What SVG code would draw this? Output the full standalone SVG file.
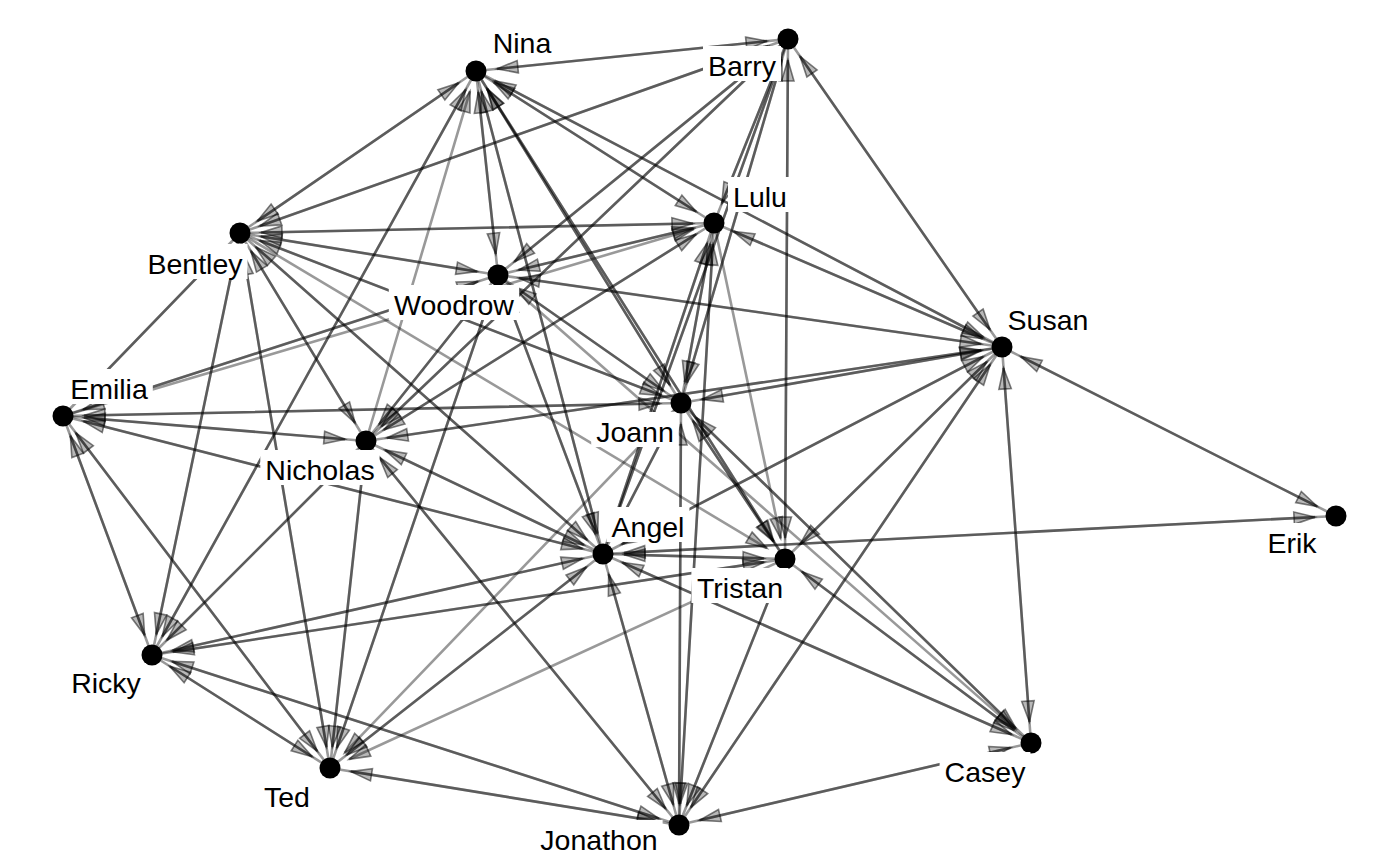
<svg xmlns="http://www.w3.org/2000/svg" width="1400" height="865" viewBox="0 0 1400 865">
<style>
.edges line{stroke:#000;stroke-opacity:.4;stroke-width:2.6;stroke-dasharray:0 21 3000;marker-start:url(#a);fill:none}
.node circle{fill:#000}
.node rect{fill:#fff}
.node text{font-family:"Liberation Sans",Arial,sans-serif;font-size:28.5px;fill:#000;text-anchor:middle}
</style>
<defs>
<marker id="a" markerUnits="userSpaceOnUse" viewBox="0 0 44 20" refX="42" refY="10" markerWidth="44" markerHeight="20" orient="auto-start-reverse" overflow="visible">
<path d="M0,3.8 L21,10 L0,16.2 Z" fill="#000" fill-opacity=".28" stroke="#000" stroke-opacity=".5" stroke-width="1.6"/>
</marker>
</defs>
<rect width="1400" height="865" fill="#fff"/>
<g id="edges" class="edges">
<line x1="476" y1="71" x2="788" y2="39"/><line x1="788" y1="39" x2="476" y2="71"/>
<line x1="476" y1="71" x2="240" y2="233"/><line x1="240" y1="233" x2="476" y2="71"/>
<line x1="476" y1="71" x2="152" y2="655"/><line x1="152" y1="655" x2="476" y2="71"/>
<line x1="476" y1="71" x2="498" y2="275"/><line x1="498" y1="275" x2="476" y2="71"/>
<line x1="476" y1="71" x2="603" y2="554"/><line x1="603" y1="554" x2="476" y2="71"/>
<line x1="476" y1="71" x2="681" y2="403"/><line x1="681" y1="403" x2="476" y2="71"/>
<line x1="476" y1="71" x2="785" y2="559"/><line x1="785" y1="559" x2="476" y2="71"/>
<line x1="476" y1="71" x2="714" y2="223"/><line x1="714" y1="223" x2="476" y2="71"/>
<line x1="476" y1="71" x2="1002" y2="347"/><line x1="1002" y1="347" x2="476" y2="71"/>
<line x1="788" y1="39" x2="240" y2="233"/><line x1="240" y1="233" x2="788" y2="39"/>
<line x1="788" y1="39" x2="498" y2="275"/><line x1="498" y1="275" x2="788" y2="39"/>
<line x1="788" y1="39" x2="366" y2="441"/><line x1="366" y1="441" x2="788" y2="39"/>
<line x1="788" y1="39" x2="785" y2="559"/><line x1="785" y1="559" x2="788" y2="39"/>
<line x1="788" y1="39" x2="1002" y2="347"/><line x1="1002" y1="347" x2="788" y2="39"/>
<line x1="788" y1="39" x2="714" y2="223"/><line x1="714" y1="223" x2="788" y2="39"/>
<line x1="788" y1="39" x2="681" y2="403"/><line x1="681" y1="403" x2="788" y2="39"/>
<line x1="788" y1="39" x2="603" y2="554"/><line x1="603" y1="554" x2="788" y2="39"/>
<line x1="240" y1="233" x2="714" y2="223"/><line x1="714" y1="223" x2="240" y2="233"/>
<line x1="240" y1="233" x2="498" y2="275"/><line x1="498" y1="275" x2="240" y2="233"/>
<line x1="240" y1="233" x2="681" y2="403"/><line x1="681" y1="403" x2="240" y2="233"/>
<line x1="240" y1="233" x2="603" y2="554"/><line x1="603" y1="554" x2="240" y2="233"/>
<line x1="240" y1="233" x2="366" y2="441"/><line x1="366" y1="441" x2="240" y2="233"/>
<line x1="240" y1="233" x2="330" y2="768"/><line x1="330" y1="768" x2="240" y2="233"/>
<line x1="240" y1="233" x2="152" y2="655"/><line x1="152" y1="655" x2="240" y2="233"/>
<line x1="240" y1="233" x2="63" y2="416"/><line x1="63" y1="416" x2="240" y2="233"/>
<line x1="498" y1="275" x2="1002" y2="347"/><line x1="1002" y1="347" x2="498" y2="275"/>
<line x1="498" y1="275" x2="714" y2="223"/><line x1="714" y1="223" x2="498" y2="275"/>
<line x1="498" y1="275" x2="63" y2="416"/><line x1="63" y1="416" x2="498" y2="275"/>
<line x1="498" y1="275" x2="366" y2="441"/><line x1="366" y1="441" x2="498" y2="275"/>
<line x1="498" y1="275" x2="330" y2="768"/><line x1="330" y1="768" x2="498" y2="275"/>
<line x1="498" y1="275" x2="603" y2="554"/><line x1="603" y1="554" x2="498" y2="275"/>
<line x1="498" y1="275" x2="681" y2="403"/><line x1="681" y1="403" x2="498" y2="275"/>
<line x1="714" y1="223" x2="366" y2="441"/><line x1="366" y1="441" x2="714" y2="223"/>
<line x1="714" y1="223" x2="1002" y2="347"/><line x1="1002" y1="347" x2="714" y2="223"/>
<line x1="714" y1="223" x2="603" y2="554"/><line x1="603" y1="554" x2="714" y2="223"/>
<line x1="714" y1="223" x2="681" y2="403"/><line x1="681" y1="403" x2="714" y2="223"/>
<line x1="714" y1="223" x2="679" y2="825"/><line x1="679" y1="825" x2="714" y2="223"/>
<line x1="1002" y1="347" x2="366" y2="441"/><line x1="366" y1="441" x2="1002" y2="347"/>
<line x1="1002" y1="347" x2="681" y2="403"/><line x1="681" y1="403" x2="1002" y2="347"/>
<line x1="1002" y1="347" x2="679" y2="825"/><line x1="679" y1="825" x2="1002" y2="347"/>
<line x1="1002" y1="347" x2="1336" y2="516"/><line x1="1336" y1="516" x2="1002" y2="347"/>
<line x1="1002" y1="347" x2="1031" y2="743"/><line x1="1031" y1="743" x2="1002" y2="347"/>
<line x1="1002" y1="347" x2="785" y2="559"/><line x1="785" y1="559" x2="1002" y2="347"/>
<line x1="1002" y1="347" x2="603" y2="554"/><line x1="603" y1="554" x2="1002" y2="347"/>
<line x1="63" y1="416" x2="681" y2="403"/><line x1="681" y1="403" x2="63" y2="416"/>
<line x1="63" y1="416" x2="366" y2="441"/><line x1="366" y1="441" x2="63" y2="416"/>
<line x1="63" y1="416" x2="603" y2="554"/><line x1="603" y1="554" x2="63" y2="416"/>
<line x1="63" y1="416" x2="152" y2="655"/><line x1="152" y1="655" x2="63" y2="416"/>
<line x1="63" y1="416" x2="330" y2="768"/><line x1="330" y1="768" x2="63" y2="416"/>
<line x1="152" y1="655" x2="330" y2="768"/><line x1="330" y1="768" x2="152" y2="655"/>
<line x1="152" y1="655" x2="679" y2="825"/><line x1="679" y1="825" x2="152" y2="655"/>
<line x1="152" y1="655" x2="603" y2="554"/><line x1="603" y1="554" x2="152" y2="655"/>
<line x1="152" y1="655" x2="785" y2="559"/><line x1="785" y1="559" x2="152" y2="655"/>
<line x1="152" y1="655" x2="366" y2="441"/><line x1="366" y1="441" x2="152" y2="655"/>
<line x1="366" y1="441" x2="330" y2="768"/><line x1="330" y1="768" x2="366" y2="441"/>
<line x1="366" y1="441" x2="679" y2="825"/><line x1="679" y1="825" x2="366" y2="441"/>
<line x1="366" y1="441" x2="603" y2="554"/><line x1="603" y1="554" x2="366" y2="441"/>
<line x1="603" y1="554" x2="330" y2="768"/><line x1="330" y1="768" x2="603" y2="554"/>
<line x1="603" y1="554" x2="679" y2="825"/><line x1="679" y1="825" x2="603" y2="554"/>
<line x1="603" y1="554" x2="785" y2="559"/><line x1="785" y1="559" x2="603" y2="554"/>
<line x1="603" y1="554" x2="1336" y2="516"/><line x1="1336" y1="516" x2="603" y2="554"/>
<line x1="603" y1="554" x2="1031" y2="743"/><line x1="1031" y1="743" x2="603" y2="554"/>
<line x1="603" y1="554" x2="681" y2="403"/><line x1="681" y1="403" x2="603" y2="554"/>
<line x1="330" y1="768" x2="679" y2="825"/><line x1="679" y1="825" x2="330" y2="768"/>
<line x1="681" y1="403" x2="679" y2="825"/><line x1="679" y1="825" x2="681" y2="403"/>
<line x1="785" y1="559" x2="679" y2="825"/><line x1="679" y1="825" x2="785" y2="559"/>
<line x1="1031" y1="743" x2="679" y2="825"/><line x1="679" y1="825" x2="1031" y2="743"/>
<line x1="681" y1="403" x2="785" y2="559"/><line x1="785" y1="559" x2="681" y2="403"/>
<line x1="681" y1="403" x2="1031" y2="743"/><line x1="1031" y1="743" x2="681" y2="403"/>
<line x1="1031" y1="743" x2="785" y2="559"/><line x1="785" y1="559" x2="1031" y2="743"/>
<line x1="476" y1="71" x2="366" y2="441"/>
<line x1="785" y1="559" x2="240" y2="233"/>
<line x1="714" y1="223" x2="63" y2="416"/>
<line x1="1031" y1="743" x2="498" y2="275"/>
<line x1="785" y1="559" x2="714" y2="223"/>
<line x1="330" y1="768" x2="681" y2="403"/>
<line x1="330" y1="768" x2="785" y2="559"/>
</g>
<g id="n-nina" class="node"><circle cx="476" cy="71" r="10.5"/><rect x="487.7" y="23" width="68.6" height="35"/><text x="522" y="53">Nina</text></g>
<g id="n-barry" class="node"><circle cx="788" cy="39" r="10.5"/><rect x="703" y="46" width="78" height="35"/><text x="742" y="76">Barry</text></g>
<g id="n-lulu" class="node"><circle cx="714" cy="223" r="10.5"/><rect x="728" y="177" width="64" height="35"/><text x="760" y="207">Lulu</text></g>
<g id="n-bentley" class="node"><circle cx="240" cy="233" r="10.5"/><rect x="142.5" y="244" width="105" height="35"/><text x="195" y="274">Bentley</text></g>
<g id="n-woodrow" class="node"><circle cx="498" cy="275" r="10.5"/><rect x="388.8" y="285" width="130.4" height="35"/><text x="454" y="315">Woodrow</text></g>
<g id="n-susan" class="node"><circle cx="1002" cy="347" r="10.5"/><rect x="1002.6" y="300" width="90.8" height="35"/><text x="1048" y="330">Susan</text></g>
<g id="n-emilia" class="node"><circle cx="63" cy="416" r="10.5"/><rect x="65.2" y="369" width="87.6" height="35"/><text x="109" y="399">Emilia</text></g>
<g id="n-joann" class="node"><rect x="591.2" y="412" width="87.6" height="35"/><text x="635" y="442">Joann</text><circle cx="681" cy="403" r="10.5"/></g>
<g id="n-nicholas" class="node"><circle cx="366" cy="441" r="10.5"/><rect x="260.3" y="450" width="119.3" height="35"/><text x="320" y="480">Nicholas</text></g>
<g id="n-angel" class="node"><circle cx="603" cy="554" r="10.5"/><rect x="606.5" y="507" width="82.9" height="35"/><text x="648" y="537">Angel</text></g>
<g id="n-tristan" class="node"><circle cx="785" cy="559" r="10.5"/><rect x="691.4" y="568" width="97.1" height="35"/><text x="740" y="598">Tristan</text></g>
<g id="n-erik" class="node"><circle cx="1336" cy="516" r="10.5"/><rect x="1262.4" y="523" width="59.1" height="35"/><text x="1292" y="553">Erik</text></g>
<g id="n-ricky" class="node"><circle cx="152" cy="655" r="10.5"/><rect x="66.1" y="663" width="79.7" height="35"/><text x="106" y="693">Ricky</text></g>
<g id="n-ted" class="node"><circle cx="330" cy="768" r="10.5"/><rect x="257.4" y="777" width="59.1" height="35"/><text x="287" y="807">Ted</text></g>
<g id="n-casey" class="node"><circle cx="1031" cy="743" r="10.5"/><rect x="939.6" y="752" width="90.8" height="35"/><text x="985" y="782">Casey</text></g>
<g id="n-jonathon" class="node"><circle cx="679" cy="825" r="10.5"/><rect x="535.4" y="820" width="127.2" height="35"/><text x="599" y="850">Jonathon</text></g>
</svg>
